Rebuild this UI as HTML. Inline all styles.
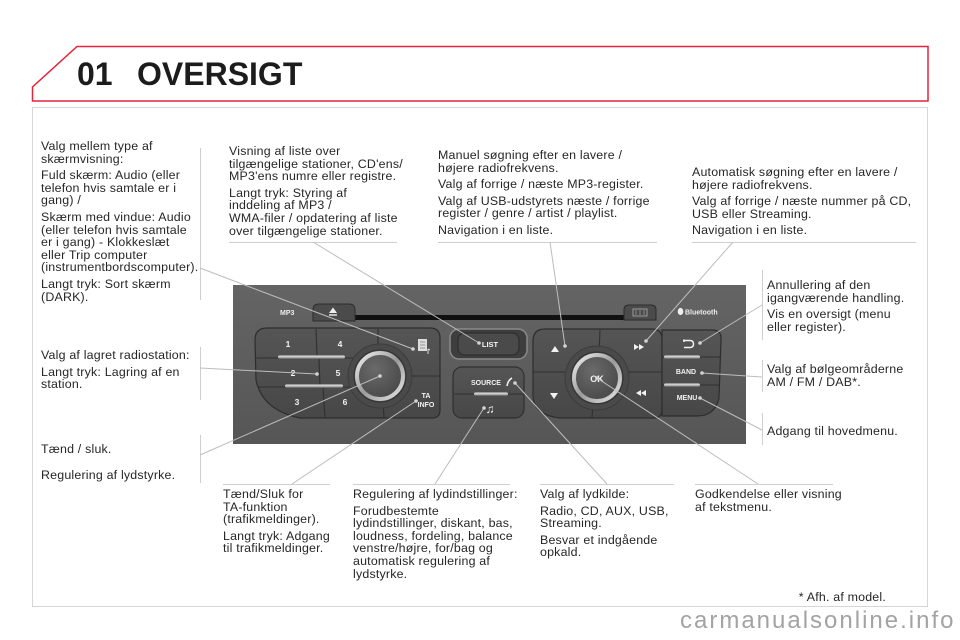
<!DOCTYPE html>
<html><head><meta charset="utf-8">
<style>
html,body{margin:0;padding:0;}
body{width:960px;height:640px;background:#fff;position:relative;overflow:hidden;font-family:"Liberation Sans",Arial,sans-serif;}
svg{position:absolute;left:0;top:0;}
.t{position:absolute;font-size:12.4px;letter-spacing:0.2px;line-height:12.6px;color:#262626;white-space:nowrap;}
.t p{margin:0;}
.t p+p{margin-top:4px;}
.title{position:absolute;top:58px;font-size:32px;line-height:32px;font-weight:bold;color:#1c1c1c;white-space:nowrap;}
.wm{position:absolute;left:680px;top:609px;font-size:24px;line-height:24px;letter-spacing:2px;color:#a3a3a3;white-space:nowrap;}
</style></head>
<body>
<svg width="960" height="640" viewBox="0 0 960 640" font-family="Liberation Sans, Arial, sans-serif">
<defs>
 <linearGradient id="pg" x1="0" y1="0" x2="0" y2="1"><stop offset="0" stop-color="#646464"/><stop offset="1" stop-color="#565656"/></linearGradient>
 <linearGradient id="bar" x1="0" y1="0" x2="0" y2="1"><stop offset="0" stop-color="#f0f0f0"/><stop offset="1" stop-color="#8c8c8c"/></linearGradient>
 <linearGradient id="ring" x1="0" y1="0" x2="1" y2="1"><stop offset="0" stop-color="#f2f2f2"/><stop offset="0.5" stop-color="#9a9a9a"/><stop offset="1" stop-color="#e6e6e6"/></linearGradient>
 <radialGradient id="knob" cx="0.4" cy="0.35" r="0.75"><stop offset="0" stop-color="#6a6a6a"/><stop offset="1" stop-color="#454545"/></radialGradient>
 <linearGradient id="btn" x1="0" y1="0" x2="0" y2="1"><stop offset="0" stop-color="#555"/><stop offset="1" stop-color="#474747"/></linearGradient>
</defs>

<!-- header frame -->
<polygon points="77,46.5 928,46.5 928,101 32.5,101 32.5,87" fill="none" stroke="#e3263a" stroke-width="1.5"/>
<!-- content box -->
<rect x="32.5" y="107.5" width="895" height="499" fill="none" stroke="#d6d6d6" stroke-width="1"/>

<!-- separators -->
<g stroke="#cfcfcf" stroke-width="1">
 <line x1="200.5" y1="148" x2="200.5" y2="300"/>
 <line x1="200.5" y1="347" x2="200.5" y2="400"/>
 <line x1="200.5" y1="435" x2="200.5" y2="483"/>
 <line x1="229" y1="242.5" x2="397" y2="242.5"/>
 <line x1="438" y1="242.5" x2="657" y2="242.5"/>
 <line x1="692" y1="242.5" x2="916" y2="242.5"/>
 <line x1="762.5" y1="270" x2="762.5" y2="340"/>
 <line x1="762.5" y1="360" x2="762.5" y2="392"/>
 <line x1="762.5" y1="413" x2="762.5" y2="445"/>
 <line x1="223" y1="484.5" x2="330" y2="484.5"/>
 <line x1="353" y1="484.5" x2="510" y2="484.5"/>
 <line x1="540" y1="484.5" x2="674" y2="484.5"/>
 <line x1="695" y1="484.5" x2="833" y2="484.5"/>
</g>

<!-- radio panel -->
<rect x="233" y="285" width="513" height="159" fill="url(#pg)"/>
<rect x="353" y="315" width="275" height="5" fill="#111"/>
<!-- eject tab -->
<path d="M313,321 L313,310 Q313,304 319,304 L349,304 Q355,304 355,310 L355,321 Z" fill="#4b4b4b" stroke="#2c2c2c"/>
<polygon points="329,313 333,307.5 337,313" fill="#eee"/>
<rect x="329" y="314.3" width="8" height="1.4" fill="#eee"/>
<text x="280" y="315" font-size="7" font-weight="bold" fill="#eee">MP3</text>
<!-- CD tab -->
<path d="M624,320 L624,310 Q624,305 629,305 L651,305 Q656,305 656,310 L656,320 Z" fill="#4b4b4b" stroke="#2c2c2c"/>
<rect x="633" y="309" width="14" height="7" fill="none" stroke="#b0b0b0" stroke-width="0.8"/>
<line x1="636" y1="310" x2="636" y2="315" stroke="#b0b0b0" stroke-width="0.6"/>
<line x1="640" y1="310" x2="640" y2="315" stroke="#b0b0b0" stroke-width="0.6"/>
<line x1="644" y1="310" x2="644" y2="315" stroke="#b0b0b0" stroke-width="0.6"/>
<ellipse cx="680.5" cy="311.5" rx="2.8" ry="3.6" fill="#eee"/>
<text x="685" y="314.5" font-size="7" font-weight="bold" fill="#eee">Bluetooth</text>

<!-- left cluster -->
<path d="M267,328 L430,328 Q440,328 440,338 L440,410 Q440,418 432,418 L300,418 Q262,410 256,380 L255,340 Q255,328 267,328 Z" fill="url(#btn)" stroke="#2d2d2d" stroke-width="1.2"/>
<g stroke="#303030" stroke-width="1.1">
 <line x1="316" y1="329" x2="317" y2="357"/>
 <line x1="319" y1="359" x2="320" y2="386"/>
 <line x1="323" y1="388" x2="325" y2="417"/>
 <line x1="378" y1="329" x2="378" y2="350"/>
 <line x1="256" y1="358" x2="372" y2="358"/>
 <line x1="258" y1="387" x2="362" y2="387"/>
 <line x1="405" y1="376" x2="440" y2="376"/>
 <line x1="383" y1="402" x2="384" y2="418"/>
</g>
<rect x="278" y="355.5" width="67" height="3" rx="1.5" fill="url(#bar)"/>
<rect x="285" y="384.5" width="58" height="3" rx="1.5" fill="url(#bar)"/>
<circle cx="380" cy="376" r="32" fill="#4a4a4a" stroke="#3c3c3c"/>
<circle cx="380" cy="376" r="26" fill="none" stroke="#333" stroke-width="1"/>
<circle cx="380" cy="376" r="23" fill="url(#knob)" stroke="url(#ring)" stroke-width="4"/>
<g font-size="8.5" font-weight="bold" fill="#f2f2f2" text-anchor="middle">
 <text x="288" y="347">1</text>
 <text x="340" y="347">4</text>
 <text x="293" y="376">2</text>
 <text x="338" y="376">5</text>
 <text x="297" y="405">3</text>
 <text x="345" y="405">6</text>
</g>
<!-- display icon -->
<rect x="418" y="339" width="9" height="12" fill="#dcdcdc"/>
<g stroke="#777" stroke-width="0.7"><line x1="420" y1="342" x2="425" y2="342"/><line x1="420" y1="345" x2="425" y2="345"/><line x1="420" y1="348" x2="425" y2="348"/></g>
<path d="M428,349 L428,354 M428,349 L430,350" stroke="#ddd" stroke-width="1" fill="none"/>
<g font-size="7" font-weight="bold" fill="#f2f2f2" text-anchor="middle">
 <text x="426" y="398">TA</text>
 <text x="426" y="407">INFO</text>
</g>

<!-- LIST button -->
<rect x="450" y="329" width="77" height="30" rx="9" fill="#3e3e3e" stroke="#8a8a8a" stroke-width="1.5"/>
<rect x="458" y="333" width="61" height="22" rx="7" fill="#4a4a4a" stroke="#2a2a2a"/>
<text x="490" y="347" font-size="7.5" font-weight="bold" fill="#f2f2f2" text-anchor="middle">LIST</text>

<!-- SOURCE button -->
<rect x="453" y="367" width="71" height="51" rx="9" fill="url(#btn)" stroke="#303030" stroke-width="1.2"/>
<line x1="454" y1="394" x2="523" y2="394" stroke="#303030"/>
<rect x="474" y="392.5" width="34" height="3" rx="1.5" fill="url(#bar)"/>
<text x="486" y="385" font-size="7" font-weight="bold" fill="#f2f2f2" text-anchor="middle">SOURCE</text>
<path d="M507,386 Q508,380 512,378" stroke="#eee" stroke-width="1.6" fill="none"/>
<text x="490" y="413" font-size="12" fill="#f2f2f2" text-anchor="middle">♫</text>

<!-- nav cluster -->
<path d="M545,329 L652,329 Q662,329 662,339 L662,410 Q662,418 654,418 L560,418 Q533,415 533,395 L533,341 Q533,329 545,329 Z" fill="url(#btn)" stroke="#2d2d2d" stroke-width="1.2"/>
<g stroke="#303030" stroke-width="1.1">
 <line x1="600" y1="330" x2="599" y2="354"/>
 <line x1="593" y1="402" x2="592" y2="418"/>
 <line x1="533" y1="372" x2="573" y2="372"/>
 <line x1="621" y1="372" x2="662" y2="372"/>
</g>
<circle cx="597" cy="378" r="32" fill="#4a4a4a" stroke="#3c3c3c"/>
<circle cx="597" cy="378" r="26" fill="none" stroke="#333" stroke-width="1"/>
<circle cx="597" cy="378" r="23" fill="url(#knob)" stroke="url(#ring)" stroke-width="4"/>
<text x="597" y="382" font-size="9" font-weight="bold" fill="#f2f2f2" text-anchor="middle">OK</text>
<g fill="#f2f2f2">
 <polygon points="551,352 555,346 559,352"/>
 <polygon points="550,393 558,393 554,399"/>
 <polygon points="634,344 639,347 634,350"/>
 <polygon points="639,344 644,347 639,350"/>
 <polygon points="641,390 636,393 641,396"/>
 <polygon points="646,390 641,393 646,396"/>
</g>

<!-- right cluster -->
<path d="M662,330 L712,330 Q722,330 721,340 L719,398 Q715,416 697,416 L662,416 Z" fill="url(#btn)" stroke="#2d2d2d" stroke-width="1.2"/>
<g stroke="#303030" stroke-width="1.1">
 <line x1="662" y1="357" x2="720" y2="357"/>
 <line x1="662" y1="385" x2="719" y2="385"/>
</g>
<rect x="664" y="355.5" width="36" height="3" rx="1.5" fill="url(#bar)"/>
<rect x="664" y="383.5" width="36" height="3" rx="1.5" fill="url(#bar)"/>
<path d="M684,339.5 L684,342 M683,340.5 L690,340.5 Q693.5,340.5 693.5,344 Q693.5,347.5 690,347.5 L684,347.5" stroke="#f2f2f2" stroke-width="1.5" fill="none"/>
<g font-size="7" font-weight="bold" fill="#f2f2f2" text-anchor="middle">
 <text x="686" y="374">BAND</text>
 <text x="687" y="400">MENU</text>
</g>

<!-- connectors -->
<g stroke="#bdbdbd" stroke-width="1">
 <line x1="200" y1="268" x2="413" y2="349"/>
 <line x1="313" y1="242" x2="479" y2="343"/>
 <line x1="550" y1="242" x2="565" y2="346"/>
 <line x1="733" y1="242" x2="646" y2="341"/>
 <line x1="762" y1="305" x2="700" y2="343"/>
 <line x1="762" y1="377" x2="702" y2="373"/>
 <line x1="762" y1="430" x2="700" y2="398"/>
 <line x1="758" y1="484" x2="597" y2="378"/>
 <line x1="607" y1="484" x2="515" y2="383"/>
 <line x1="435" y1="484" x2="484" y2="408"/>
 <line x1="292" y1="484" x2="416" y2="401"/>
 <line x1="200" y1="455" x2="380" y2="376"/>
 <line x1="200" y1="368" x2="317" y2="374"/>
</g>
<g fill="#d4d4d4">
 <circle cx="413" cy="349" r="1.8"/>
 <circle cx="479" cy="343" r="1.8"/>
 <circle cx="565" cy="346" r="1.8"/>
 <circle cx="646" cy="341" r="1.8"/>
 <circle cx="700" cy="343" r="1.8"/>
 <circle cx="702" cy="373" r="1.8"/>
 <circle cx="700" cy="398" r="1.8"/>
 <circle cx="597" cy="378" r="1.8"/>
 <circle cx="515" cy="383" r="1.8"/>
 <circle cx="484" cy="408" r="1.8"/>
 <circle cx="416" cy="401" r="1.8"/>
 <circle cx="380" cy="376" r="1.8"/>
 <circle cx="317" cy="374" r="1.8"/>
</g>
</svg>

<div class="title" style="left:77px;">01</div>
<div class="title" style="left:137px;">OVERSIGT</div>

<div class="t" style="left:41px;top:140px;">
<p>Valg mellem type af<br>skærmvisning:</p>
<p>Fuld skærm: Audio (eller<br>telefon hvis samtale er i<br>gang) /</p>
<p>Skærm med vindue: Audio<br>(eller telefon hvis samtale<br>er i gang) - Klokkeslæt<br>eller Trip computer<br>(instrumentbordscomputer).</p>
<p>Langt tryk: Sort skærm<br>(DARK).</p>
</div>

<div class="t" style="left:41px;top:349px;">
<p>Valg af lagret radiostation:</p>
<p>Langt tryk: Lagring af en<br>station.</p>
</div>

<div class="t" style="left:41px;top:443px;"><p>Tænd / sluk.</p></div>
<div class="t" style="left:41px;top:469px;"><p>Regulering af lydstyrke.</p></div>

<div class="t" style="left:229px;top:145px;">
<p>Visning af liste over<br>tilgængelige stationer, CD'ens/<br>MP3'ens numre eller registre.</p>
<p>Langt tryk: Styring af<br>inddeling af MP3 /<br>WMA-filer / opdatering af liste<br>over tilgængelige stationer.</p>
</div>

<div class="t" style="left:438px;top:149px;">
<p>Manuel søgning efter en lavere /<br>højere radiofrekvens.</p>
<p>Valg af forrige / næste MP3-register.</p>
<p>Valg af USB-udstyrets næste / forrige<br>register / genre / artist / playlist.</p>
<p>Navigation i en liste.</p>
</div>

<div class="t" style="left:692px;top:166px;">
<p>Automatisk søgning efter en lavere /<br>højere radiofrekvens.</p>
<p>Valg af forrige / næste nummer på CD,<br>USB eller Streaming.</p>
<p>Navigation i en liste.</p>
</div>

<div class="t" style="left:767px;top:279px;">
<p>Annullering af den<br>igangværende handling.</p>
<p>Vis en oversigt (menu<br>eller register).</p>
</div>

<div class="t" style="left:767px;top:363px;">
<p>Valg af bølgeområderne<br>AM / FM / DAB*.</p>
</div>

<div class="t" style="left:767px;top:425px;"><p>Adgang til hovedmenu.</p></div>

<div class="t" style="left:223px;top:488px;">
<p>Tænd/Sluk for<br>TA-funktion<br>(trafikmeldinger).</p>
<p>Langt tryk: Adgang<br>til trafikmeldinger.</p>
</div>

<div class="t" style="left:353px;top:488px;">
<p>Regulering af lydindstillinger:</p>
<p>Forudbestemte<br>lydindstillinger, diskant, bas,<br>loudness, fordeling, balance<br>venstre/højre, for/bag og<br>automatisk regulering af<br>lydstyrke.</p>
</div>

<div class="t" style="left:540px;top:488px;">
<p>Valg af lydkilde:</p>
<p>Radio, CD, AUX, USB,<br>Streaming.</p>
<p>Besvar et indgående<br>opkald.</p>
</div>

<div class="t" style="left:695px;top:488px;">
<p>Godkendelse eller visning<br>af tekstmenu.</p>
</div>

<div class="t" style="right:74px;top:591px;text-align:right;"><p>* Afh. af model.</p></div>

<div class="wm">carmanualsonline.info</div>
</body></html>
